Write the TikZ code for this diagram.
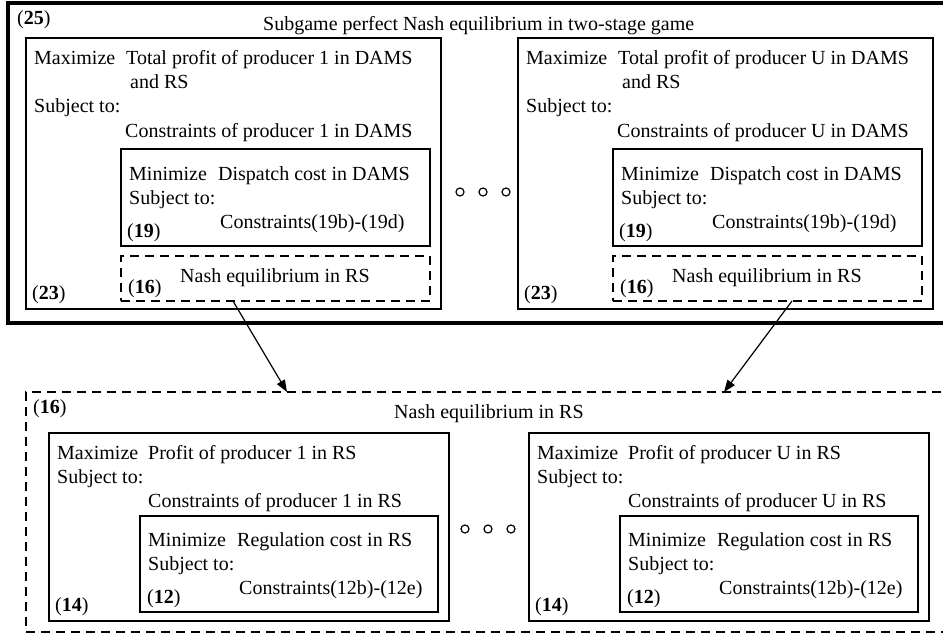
\documentclass[tikz,border=0pt]{standalone}
\usepackage{fontspec}
\setmainfont{Liberation Serif}
\usetikzlibrary{arrows.meta}
\tikzset{
 txt/.style={anchor=base west, inner sep=0pt, font=\fontsize{20}{24}\selectfont},
 box/.style={draw, line width=1.4pt, anchor=north west, inner sep=0pt, outer sep=0pt},
 dbox/.style={box, dash pattern=on 9pt off 6pt, line width=1.3pt},
 dotc/.style={draw, circle, line width=1.2pt, minimum size=8pt, inner sep=0pt},
 arr/.style={-{Triangle[length=12pt,width=9pt]}, line width=1.2pt}
}
\begin{document}
\begin{tikzpicture}[x=1pt,y=-1pt]
\useasboundingbox (0,0) rectangle (943,633);
\node[box, line width=4pt, minimum width=942pt, minimum height=320pt] (stage) at (8,3) {};
\node[txt] (t25) at (17,24) {(\textbf{25})};
\node[txt] (ttitle) at (263,30) {Subgame perfect Nash equilibrium in two-stage game};
\foreach \s/\p/\q in {0/L/1,492/R/U}{
\begin{scope}[xshift=\s pt]
\node[box, minimum width=415pt, minimum height=271pt] (\p-prod) at (26,38) {};
\node[box, minimum width=309pt, minimum height=97pt] (\p-dams) at (121,149) {};
\node[dbox, minimum width=309pt, minimum height=45pt] (\p-rs) at (121,256) {};
\node[txt] (\p-a) at (34,64) {Maximize};
\node[txt] (\p-b) at (126,64) {Total profit of producer \q\ in DAMS};
\node[txt] (\p-c) at (130,88) {and RS};
\node[txt] (\p-d) at (34,112) {Subject to:};
\node[txt] (\p-e) at (125,137) {Constraints of producer \q\ in DAMS};
\node[txt] (\p-f) at (129,180) {Minimize};
\node[txt] (\p-g) at (218,180) {Dispatch cost in DAMS};
\node[txt] (\p-h) at (129,204) {Subject to:};
\node[txt] (\p-i) at (220,228) {Constraints(19b)-(19d)};
\node[txt] (\p-j) at (127,237) {(\textbf{19})};
\node[txt] (\p-k) at (180,282) {Nash equilibrium in RS};
\node[txt] (\p-l) at (128,293) {(\textbf{16})};
\node[txt] (\p-m) at (32,299) {(\textbf{23})};
\end{scope}}
\node[dotc] (d1) at (460,192) {};
\node[dotc] (d2) at (483,192) {};
\node[dotc] (d3) at (506,192) {};
\node[dbox, minimum width=930pt, minimum height=240pt] (nash) at (26,392) {};
\node[txt] (n16) at (33,413) {(\textbf{16})};
\node[txt] (ntitle) at (394,418) {Nash equilibrium in RS};
\foreach \s/\p/\q in {0/L/1,480/R/U}{
\begin{scope}[xshift=\s pt]
\node[box, minimum width=400pt, minimum height=188pt] (\p-pr) at (49,433) {};
\node[box, minimum width=298pt, minimum height=96pt] (\p-reg) at (140,516) {};
\node[txt] (\p-ba) at (57,459) {Maximize};
\node[txt] (\p-bb) at (148,459) {Profit of producer \q\ in RS};
\node[txt] (\p-bc) at (57,483) {Subject to:};
\node[txt] (\p-bd) at (148,507) {Constraints of producer \q\ in RS};
\node[txt] (\p-be) at (148,546) {Minimize};
\node[txt] (\p-bf) at (237,546) {Regulation cost in RS};
\node[txt] (\p-bg) at (148,570) {Subject to:};
\node[txt] (\p-bh) at (239,594) {Constraints(12b)-(12e)};
\node[txt] (\p-bi) at (147,603) {(\textbf{12})};
\node[txt] (\p-bj) at (55,611) {(\textbf{14})};
\end{scope}}
\node[dotc] (e1) at (465,529) {};
\node[dotc] (e2) at (488,529) {};
\node[dotc] (e3) at (511,529) {};
\draw[arr] ([xshift=112pt]L-rs.south west) -- ([xshift=261pt]nash.north west);
\draw[arr] ([xshift=179pt]R-rs.south west) -- ([xshift=698pt]nash.north west);
\end{tikzpicture}
\end{document}
